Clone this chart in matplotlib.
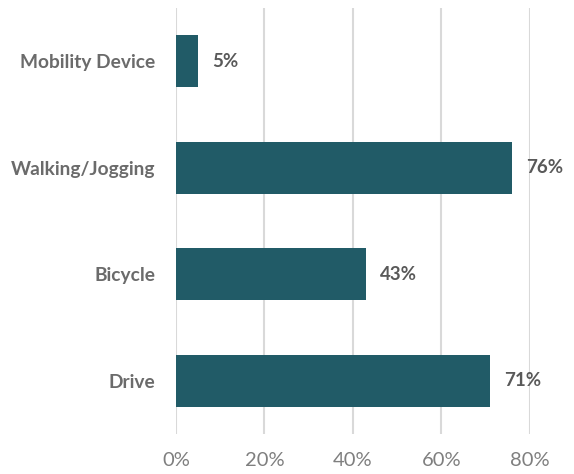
import matplotlib.pyplot as plt

categories = ['Drive', 'Bicycle', 'Walking/Jogging', 'Mobility Device']
values = [71, 43, 76, 5]
x_ticks = [0, 20, 40, 60, 80]
x_tick_labels = ['0%', '20%', '40%', '60%', '80%']

bar_color = '#215B67'
label_gray = '#6B6B6B'

fig = plt.figure(figsize=(5.74, 4.74), dpi=100)
ax = fig.add_axes([0.3066, 0.0844, 0.6167, 0.8986])

ax.barh(range(len(categories)), values, height=0.49, color=bar_color, zorder=3)

for i, v in enumerate(values):
    ax.annotate(f'{v}%', (v, i), xytext=(14, 0), textcoords='offset pixels',
                va='center', ha='left', fontsize=13.5, fontweight='bold',
                color='#595959', family='Lato')

ax.set_xlim(0, 80)
ax.set_ylim(-0.5, 3.5)
ax.set_xticks(x_ticks)
ax.set_xticklabels(x_tick_labels, fontsize=14.5, color='#7F7F7F', family='Lato')
ax.set_yticks(range(len(categories)))
ax.set_yticklabels(categories, fontsize=13.8, fontweight='bold', color=label_gray,
                   family='Lato')

ax.tick_params(axis='both', length=0)
ax.tick_params(axis='x', pad=13)
ax.tick_params(axis='y', pad=15)
ax.grid(axis='x', color='#D9D9D9', linewidth=1.5, zorder=0)
ax.set_axisbelow(True)
for s in ax.spines.values():
    s.set_visible(False)

fig.savefig('out.png', dpi=100)
